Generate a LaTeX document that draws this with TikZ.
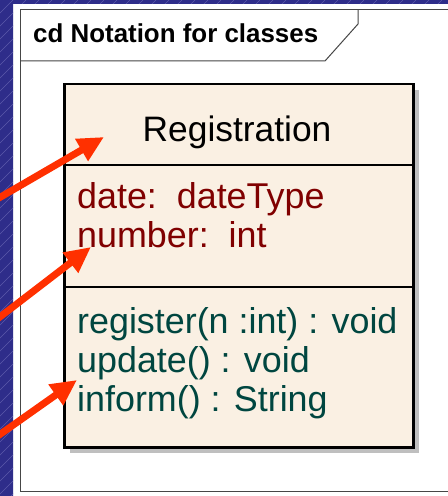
\documentclass[tikz,border=0pt]{standalone}
\usepackage{fontspec}
\setmainfont{Liberation Sans}
\usetikzlibrary{arrows.meta}
\definecolor{bgblue}{RGB}{46,45,138}
\definecolor{hatch}{RGB}{92,90,170}
\definecolor{boxfill}{RGB}{250,240,227}
\definecolor{attrred}{RGB}{128,0,0}
\definecolor{opteal}{RGB}{0,70,64}
\definecolor{arrowred}{RGB}{255,48,0}
\definecolor{framegray}{RGB}{70,70,70}
\tikzset{
  redarrow/.style={draw=arrowred, line width=7bp, -{Triangle[length=26bp,width=24bp]}},
  classtext/.style={inner sep=0pt, font=\fontsize{36}{39}\selectfont},
  attrtext/.style={classtext, text=attrred, anchor=base west},
  optext/.style={classtext, text=opteal, anchor=base west},
  titletext/.style={inner sep=0pt, anchor=base west, font=\fontsize{26}{30}\selectfont\bfseries},
}
\begin{document}
\begin{tikzpicture}[x=1bp,y=-1bp]
\useasboundingbox (0,0) rectangle (448,496);
% background: white page area with blue strips on the left and top
\fill[white] (-5,-5) rectangle (455,505);
\begin{scope}
\clip (-5,-5) -| (455,4) -| (13,505) -- (-5,505) -- cycle;
\fill[bgblue] (-5,-5) rectangle (455,505);
\foreach \k in {-40,...,40} {
  \draw[hatch, line width=0.6bp] (\k*13,520) -- (\k*13+520,0);
}
\end{scope}
% frame
\draw[framegray, line width=1bp] (20,491) -- (20,10) -- (455,10);
\draw[framegray, line width=1bp] (20,491) -- (455,491);
\draw[framegray, line width=1bp] (20,61) -- (325,61) -- (358,24) -- (358,10);
\node[titletext] (title) at (33,43) {cd Notation for classes};
% class box
\fill[black!25] (70,90) rectangle (419,453);
\node[draw=black, fill=boxfill, line width=2.5bp, anchor=north west,
      minimum width=349bp, minimum height=363bp, inner sep=0pt] (cls) at (63,83) {};
\draw[line width=2bp] (63,165) coordinate (d1w) -- (412,165) coordinate (d1e);
\draw[line width=2bp] (63,287) coordinate (d2w) -- (412,287) coordinate (d2e);
\node[classtext, anchor=base, font=\fontsize{35.5}{39}\selectfont] (name) at (237,142) {Registration};
\node[attrtext] (a1) at (77,208) {date:\ \ dateType};
\node[attrtext] (a2) at (77,247) {number:\ \ int};
\node[optext] (o1) at (77,333) {register(n :int) : void};
\node[optext] (o2) at (77,372) {update() : void};
\node[optext] (o3) at (77,411) {inform() : String};
% red arrows
\coordinate (s1) at (-8,202);
\coordinate (t1) at (104,137);
\coordinate (s2) at (-8,323);
\coordinate (t2) at (91,247);
\coordinate (s3) at (-8,440);
\coordinate (t3) at (77,380);
\draw[redarrow] (s1) -- (t1);
\draw[redarrow] (s2) -- (t2);
\draw[redarrow] (s3) -- (t3);
\end{tikzpicture}
\end{document}
